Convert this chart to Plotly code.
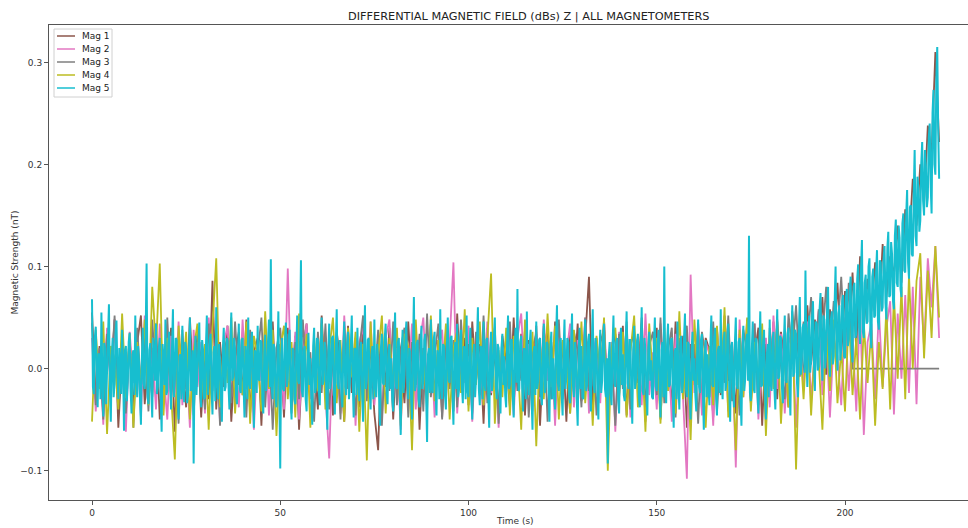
import numpy as np
import plotly.graph_objects as go

# ---- data (values in thousandths of nT) ----
series_names = ["Mag 1", "Mag 2", "Mag 3", "Mag 4", "Mag 5"]
series_colors = ["#8c564b", "#e377c2", "#7f7f7f", "#bcbd22", "#17becf"]

time_1s = list(range(0, 226))                   # seconds, 1 s step
time_quarter = [i / 4 for i in range(0, 901)]   # seconds, 0.25 s step

mag1 = [
    55, -30, 22, -45, 38, -12, 48, -58, 15, -20,
    30, -40, 25, 52, -35, 10, -28, 44, -50, 18,
    -15, 40, -62, 28, 8, -38, 50, -22, 34, -48,
    20, -30, 86, -40, 26, -18, 42, -52, 12, 36,
    -26, 48, -44, 16, 30, -56, 38, -10, 46, -34,
    24, -48, 40, -20, 32, -60, 18, 44, -28, 12,
    -40, 52, -16, 28, -46, 36, 6, -52, 42, -24,
    30, -38, 48, -14, 22, -44, -80, 34, -18, 40,
    -50, 26, 12, -34, 46, -22, 38, -60, 20, -8,
    44, -30, 28, -48, 36, 14, -42, 54, -20, 30,
    -36, 46, -12, 24, -54, 40, -26, 18, -44, 32,
    8, -38, 50, -22, 34, -46, 28, -16, 42, -56,
    20, 38, -30, 46, -18, 26, -52, 36, -10, 44,
    -32, 24, 90, -40, 30, -20, 48, -62, 16, 34,
    -28, 42, -46, 22, 36, -14, 50, -38, 12, -24,
    40, -50, 28, 10, -36, 46, -22, 32, -58, 24,
    -16, 44, -40, 30, 18, -48, 38, -26, 52, -12,
    26, -44, 34, -20, 48, -34, 14, 40, -56, 28,
    -18, 46, -30, 36, 6, -38, 56, 10, 40, -12,
    62, 4, 48, 20, 70, -6, 58, 26, 84, 12,
    76, 30, 94, 18, 110, 40, 88, 56, 104, 48,
    122, 70, 110, 92, 140, 84, 156, 120, 186, 140,
    200, 162, 238, 210, 310, 222,
]

mag2 = [
    30, -42, 18, -55, 40, -20, 48, -30, 10, -62,
    36, -14, 28, -48, 52, -26, 20, -40, 44, -8,
    -50, 32, -24, 46, -36, 14, -58, 38, -18, 26,
    -44, 50, -10, 30, -52, 24, 42, -28, 16, -38,
    48, -20, 34, -60, 22, -12, 40, -46, 28, -32,
    18, -40, 98, -24, 36, -50, 14, 44, -30, 22,
    -16, 38, -28, -88, 30, 10, -44, 52, -20, 34,
    -56, 26, 40, -18, 46, -36, 12, -50, 30, 48,
    -28, 20, -60, 36, -12, 44, -40, 24, 50, -22,
    32, -48, 16, 38, -30, 26, 104, -44, 20, -14,
    42, -52, 28, 10, -36, 46, -24, 34, -58, 18,
    -20, 40, -46, 30, 54, -16, 24, -42, 36, -30,
    48, -12, 22, -56, 38, -26, 14, 44, -38, 28,
    -18, 50, -44, 32, 12, -34, 46, -22, 26, -62,
    36, -14, 42, -48, 20, 30, -36, 54, -26, 16,
    -40, 44, -20, 28, -52, 34, 10, -30, -108, 92,
    -24, 38, -46, 26, 14, -56, 40, -18, 32, -42,
    22, -97, 48, -28, 36, -12, 44, -50, 18, 30,
    -38, 52, -20, 34, -44, 24, 40, -58, 28, -16,
    46, -32, 20, 56, -26, 38, -48, 30, 12, -36,
    50, -22, 34, -42, 62, -65, 26, 44, -30, 58,
    -18, 40, 66, -45, 54, -10, 72, -24, 80, -35,
    90, 20, 108, 60, 120, 30,
]

mag3 = [
    45, -36, 20, -50, 34, -14, 52, -26, 8, -44,
    28, -58, 40, -18, 30, -42, 48, -10, 24, -36,
    50, -28, 16, -54, 38, -20, 32, -46, 26, 12,
    -40, 44, -22, 36, -56, 18, 30, -34, 46, -16,
    22, -48, 38, -26, 14, 50, -38, 28, -60, 20,
    40, -18, 34, -44, 26, -30, 48, -12, 16, -52,
    36, -24, 44, -40, 10, 30, -50, 42, -20, 28,
    -46, 18, 52, -32, 24, -14, 38, -56, 30, -22,
    46, -36, 20, 40, -48, 26, -16, 34, -42, 54,
    -28, 12, 44, -50, 32, -20, 28, -38, 48, -10,
    24, -44, 36, -26, 52, -34, 16, 40, -54, 22,
    -18, 46, -36, 28, -12, 38, -48, 20, 34, -28,
    42, -52, 26, -16, 48, -30, 14, -44, 36, 18,
    -38, 50, -22, 32, -46, 24, 40, -30, 12, -56,
    34, -20, 46, -40, 28, -10, 44, -52, 22, 36,
    -26, 50, -34, 18, 40, -48, 30, -16, 42, -38,
    24, -54, 36, 12, -28, 46, -42, 20, -14, 52,
    -32, 28, -46, 38, 16, -24, 44, -36, 30, -50,
    40, -12, 48, 2, -30, 54, 14, 62, -8, 46,
    24, 70, -4, 58, 30, 80, 10, 66, 36, 90,
    20, 84, 0, 0, 0, 0, 0, 0, 0, 0,
    0, 0, 0, 0, 0, 0, 0, 0, 0, 0,
    0, 0, 0, 0, 0, 0,
]

mag4 = [
    -52, 38, -20, 46, -64, 22, 10, -40, 54, -28,
    34, -58, 26, -16, 48, -36, 80, 20, 103, -46,
    30, -24, -89, 42, -12, 36, -50, 18, 44, -32,
    24, -60, 40, 108, -38, 28, -14, 50, -44, 16,
    -26, 46, -54, 32, 12, -42, 56, -20, 38, -66,
    20, 42, -30, 26, -48, 54, -10, 34, -58, 30,
    -22, 44, -40, 18, 50, -34, 28, -52, 40, -8,
    36, -62, 24, -90, 46, -28, 14, 52, -44, 30,
    -18, 40, -56, 34, 22, -80, 48, -26, 16, -40,
    52, -32, 28, -14, 44, -50, 20, 38, -24, 58,
    -42, 30, -16, 46, -36, 26, 93, -54, 18, -28,
    40, -46, 32, 12, -60, 48, -22, 36, -76, 24,
    -30, 54, -18, 42, -50, 28, 10, -44, 38, -20,
    46, -34, 24, -56, 32, -12, 50, -100, 20, 40,
    -26, 36, -48, 16, 52, -38, 28, -62, 44, -10,
    30, -54, 40, -22, 18, -44, 56, -30, 26, -70,
    48, -16, 34, -58, 22, -36, 42, -24, 60, -48,
    14, -80, 38, -28, 50, -42, 26, -12, 44, -66,
    32, -20, 46, -54, 18, -38, 52, -99, 28, -30,
    40, -46, 24, 10, -60, 36, -22, 48, -34, 20,
    -42, 54, -26, 30, -50, 44, -14, 38, -56, 26,
    -20, 60, -40, 72, -10, 80, -30, 92, 0, 86,
    113, 10, 96, 30, 120, 50,
]

mag5 = [
    68, -18, -25, 30, 41, -22, -38, 15, 12, -30, 55, -10, -47, 25, 20, -35, -8, 28, 63, -20,
    -52, 12, 30, -28, -15, 34, 47, -5, -30, 20, 8, -25, 38, 5, -61, 18, 22, -32, -12, 26,
    35, -20, -44, 14, 18, -26, 52, -8, -28, 22, 6, -30, -55, 10, 40, -15, -20, 32, 103, -28,
    -35, 18, 25, -22, -48, 30, 15, -12, 44, -25, -18, 20, 30, -30, -62, 24, 10, -16, 48, -26,
    -22, 24, 36, -14, -40, 20, 58, -28, -10, 30, 28, -24, -50, 12, 14, -30, 42, -20, -33, 26,
    20, -34, -26, 15, 50, -22, -15, 18, -93, 10, 32, -26, -5, 22, 45, -18, -38, 28, 18, -30,
    -28, 20, 52, -26, -12, 28, 34, -20, -45, 16, 22, -32, 60, -14, -30, 24, 8, -28, -52, 18,
    40, -22, -18, 30, 27, -16, -40, 22, 55, -12, -8, 30, 18, -26, -35, 14, 44, -20, -24, 28,
    30, -16, -48, 22, 12, -30, 50, -14, -20, 26, 36, -20, -58, 18, 15, -24, 42, -10, -12, 28,
    25, -30, -44, 16, 33, -22, -6, 26, 48, -18, 107, -20, -30, 24, 20, -28, -38, 10, 56, -24,
    -98, 14, 30, -20, -22, 26, 45, -18, -10, 30, 38, -26, -50, 20, 18, -30, -35, 16, 52, -12,
    -15, 24, 106, -22, -28, 18, 22, -30, -42, 12, 35, -16, 10, -28, -55, 22, 40, -24, -18, 30,
    28, -22, -36, 18, 50, -16, -12, 26, 20, -28, -60, 14, 44, -20, -8, 30, 32, -24, -45, 20,
    58, -14, -20, 28, 14, -26, -38, 16, 46, -18, -26, 24, 36, -30, -14, 22, 52, -12, -48, 20,
    18, -26, 40, -12, -32, 20, 26, -24, -52, 16, 62, -20, -10, 28, 30, -22, -40, 14, 22, -30,
    48, -16, -28, 24, 8, -28, -56, 20, 34, -14, -16, 30, 44, -24, -35, 18, 24, -20, 10, -30,
    -42, 22, 55, -18, -20, 26, 30, -26, -65, 12, 38, -24, -6, 30, 46, -14, -30, 20, 16, -28,
    -50, 18, 70, -22, -18, 24, 28, -30, -38, 16, 42, -20, -12, 28, 34, -26, -72, 14, 20, -24,
    48, -20, -24, 28, 36, -22, -46, 18, 12, -30, 58, -16, -30, 24, 22, -26, -40, 20, 50, -12,
    -14, 30, 32, -24, -55, 14, 26, -20, 44, -28, -20, 26, 38, -18, -34, 22, 16, -30, 52, -22,
    -28, 18, 40, -24, -50, 14, 24, -28, -10, 26, 60, -20, -36, 22, 18, -30, 46, -14, -22, 28,
    30, -26, -58, 16, 36, -22, -6, 30, 50, -18, -30, 24, 20, -28, -44, 20, 34, -16, 12, -26,
    -38, 24, 52, -20, -16, 28, 28, -26, -48, 18, 40, -14, 78, -22, -20, 26, 32, -18, -42, 20,
    14, -30, 56, -12, -26, 24, 38, -28, -60, 16, 22, -26, 46, -20, -12, 28, 30, -24, -36, 18,
    44, -24, -18, 26, 24, -16, -52, 20, 36, -30, 10, -22, -40, 28, 62, -14, -22, 24, 30, -26,
    -46, 18, 48, -20, -8, 30, 26, -28, -34, 22, 54, -16, -28, 26, 16, -30, -56, 14, 40, -20,
    22, -28, -30, 18, 48, -22, -16, 26, 34, -18, -42, 24, 58, -16, -24, 30, 20, -26, -50, 14,
    38, -24, -12, 28, 44, -20, -28, 10, -93, 12, 26, -24, -36, 20, 52, -14, -18, 26, 30, -30,
    -44, 20, 40, -16, 14, -26, -32, 22, 56, -14, -20, 28, 28, -24, -54, 18, 42, -20, -10, 26,
    34, -28, -38, 16, 60, -22, -26, 30, 18, -24, -46, 20, 36, -12, 8, -28, -30, 24, 50, -18,
    -22, 26, 38, -20, -48, 18, 26, -28, 100, -22, -34, 24, 44, -18, -16, 28, 30, -26, -58, 16,
    20, -30, 46, -14, -40, 22, 32, -24, -12, 30, 54, -20, -28, 26, 24, -28, -50, 18, 36, -12,
    10, -26, -42, 20, 48, -18, -24, 28, 34, -22, -60, 16, 28, -28, 14, -20, -36, 24, 52, -16,
    -18, 30, 40, -26, -46, 18, 22, -24, 58, -14, -30, 26, 36, -22, -14, 30, 44, -18, -52, 22,
    26, -20, -38, 24, 50, -16, -20, 26, 30, -28, -56, 20, 42, -22, -10, 28, 34, -12, 130, -24,
    -32, 18, 46, -20, -24, 30, 28, -26, -44, 22, 56, -18, -16, 26, 38, -24, -50, 14, 24, -28,
    48, -14, -22, 28, 36, -20, -40, 22, 58, -10, -8, 32, 30, -18, -34, 26, 52, -12, -14, 34,
    40, -16, -46, 30, 62, -8, -4, 38, 34, -14, -28, 36, 70, -6, 6, 40, 44, -4, 96, 10,
    -18, 40, 52, -4, 8, 50, 66, 6, -22, 46, 44, -2, 2, 58, 74, 10, -12, 52, 48, 0,
    18, 60, 80, 14, -8, 48, 56, 4, 12, 64, 100, 16, -2, 54, 62, 8, 20, 66, 72, 12,
    10, 70, 78, 22, 28, 76, 90, 18, 6, 80, 84, 30, 34, 88, 102, 40, 24, 96, 126, 36,
    30, 84, 92, 44, 46, 100, 108, 34, 20, 90, 98, 50, 52, 94, 116, 46, 38, 106, 104, 56,
    60, 108, 120, 64, 48, 118, 134, 70, 72, 124, 112, 66, 58, 130, 146, 84, 80, 140, 128, 78,
    70, 142, 152, 96, 94, 150, 175, 104, 88, 158, 160, 112, 110, 170, 214, 130, 120, 188, 176, 134,
    145, 200, 222, 164, 150, 214, 196, 158, 168, 226, 240, 180, 152, 250, 273, 200, 190, 282, 315, 236,
    186,
]

x_ticks = [0, 50, 100, 150, 200]
x_tick_labels = ["0", "50", "100", "150", "200"]
y_ticks = [-0.1, 0.0, 0.1, 0.2, 0.3]
y_tick_labels = ["\u22120.1", "0.0", "0.1", "0.2", "0.3"]

series_values = [mag1, mag2, mag3, mag4, mag5]
series_times = [time_1s, time_1s, time_1s, time_1s, time_quarter]
series_widths = [1.8, 1.8, 1.8, 1.8, 2.0]

# ---- figure ----
W, H = 968, 528
ml, mr, mt, mb = 49, 0, 25, 28
PW, PH = W - ml - mr, H - mt - mb
FONT = "DejaVu Sans, Verdana, sans-serif"


def px(xp):
    return (xp - ml) / PW


def py(yp):
    return 1 - (yp - mt) / PH


fig = go.Figure()
for name, color, tvals, vals, lw in zip(series_names, series_colors, series_times,
                                        series_values, series_widths):
    fig.add_trace(go.Scatter(
        x=tvals, y=np.array(vals) / 1000.0, mode="lines", name=name,
        line=dict(color=color, width=lw), showlegend=False,
    ))

# legend drawn matplotlib-style (compact box in the upper-left corner)
shapes = [dict(type="rect", xref="paper", yref="paper",
               x0=px(54), x1=px(112), y0=py(29), y1=py(97),
               line=dict(color="#d0d0d0", width=1), fillcolor="rgba(255,255,255,0.85)",
               layer="above")]
annotations = []
for k, (name, color) in enumerate(zip(series_names, series_colors)):
    yy = 36 + 13 * k
    shapes.append(dict(type="line", xref="paper", yref="paper",
                       x0=px(57), x1=px(75), y0=py(yy), y1=py(yy),
                       line=dict(color=color, width=1.5), layer="above"))
    annotations.append(dict(text=name, xref="paper", yref="paper", x=px(80), y=py(yy),
                            xanchor="left", yanchor="middle", showarrow=False,
                            font=dict(size=9, color="#222")))

annotations += [
    dict(text="DIFFERENTIAL MAGNETIC FIELD (dBs) Z | ALL MAGNETOMETERS",
         xref="paper", yref="paper", x=px(529), y=py(16),
         xanchor="center", yanchor="middle", showarrow=False,
         font=dict(size=11.3, color="#222")),
    dict(text="Time (s)", xref="paper", yref="paper",
         x=px(515), y=py(521),
         xanchor="center", yanchor="middle", showarrow=False,
         font=dict(size=9, color="#333")),
    dict(text="Magnetic Strength (nT)", xref="paper", yref="paper",
         x=px(14), y=0.5, textangle=-90,
         xanchor="center", yanchor="middle", showarrow=False,
         font=dict(size=9, color="#333")),
]

fig.update_layout(
    width=W, height=H,
    margin=dict(l=ml, r=mr, t=mt, b=mb),
    paper_bgcolor="white", plot_bgcolor="white",
    font=dict(family=FONT, size=10, color="#333"),
    showlegend=False,
    xaxis=dict(
        range=[-11.42, 232.67], tickvals=x_ticks, ticktext=x_tick_labels,
        showgrid=False, zeroline=False, showline=True, linecolor="#555", linewidth=1,
        mirror=True, ticks="outside", ticklen=4, tickcolor="#555",
        tickfont=dict(size=9, color="#333"),
    ),
    yaxis=dict(
        range=[-0.1288, 0.3366], tickvals=y_ticks, ticktext=y_tick_labels,
        showgrid=False, zeroline=False, showline=True, linecolor="#555", linewidth=1,
        mirror=False, ticks="outside", ticklen=4, tickcolor="#555",
        tickfont=dict(size=9, color="#333"),
    ),
    shapes=shapes,
    annotations=annotations,
)

fig.write_html("out.html")
